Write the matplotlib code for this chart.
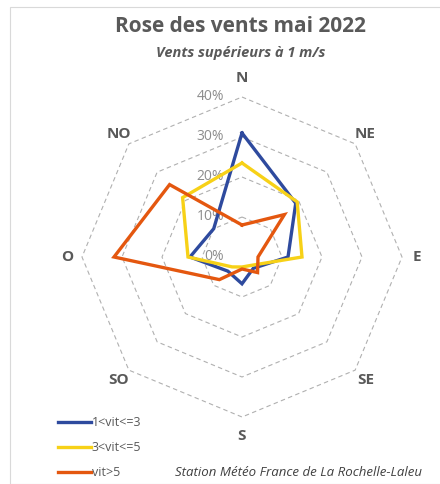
import numpy as np
import matplotlib
matplotlib.use("Agg")
import matplotlib.pyplot as plt
import matplotlib.transforms as mtransforms
from matplotlib.patches import Rectangle

directions = ["N", "NE", "E", "SE", "S", "SO", "O", "NO"]
series_names = ["1<vit<=3", "3<vit<=5", "vit>5"]
v_low = [31, 19, 11.5, 4, 6.7, 5, 13, 10]
v_mid = [23.5, 19.5, 15, 3, 2.5, 3.5, 13.5, 21]
v_high = [8, 15, 4, 5.5, 3, 8, 32, 25.6]
colors = ["#2E4A9E", "#F7D117", "#E4570F"]
ring_values = [10, 20, 30, 40]
ring_labels = ["0%", "10%", "20%", "30%", "40%"]

plt.rcParams['font.family'] = ['Open Sans', 'DejaVu Sans']

W, H = 440, 484
fig = plt.figure(figsize=(W / 100, H / 100), dpi=100)

# frame
fig.patches.append(Rectangle((10 / W, 0), (W - 10) / W + 0.01, (H - 7) / H,
                             transform=fig.transFigure, fill=False,
                             edgecolor="#d9d9d9", lw=0.8))

cx, cy, R = 242, H - 257, 160
ax = fig.add_axes([(cx - R) / W, (cy - R) / H, 2 * R / W, 2 * R / H],
                  projection="polar")
ax.set_theta_zero_location("N")
ax.set_theta_direction(-1)
ax.set_ylim(0, 40)
ax.grid(False)
ax.spines["polar"].set_visible(False)
ax.set_xticks([])
ax.set_yticks([])
ax.patch.set_alpha(0)

n = len(directions)
theta = np.arange(n) * 2 * np.pi / n
theta_c = np.append(theta, theta[0])

for rv in ring_values:
    ax.plot(theta_c, [rv] * (n + 1), color="#b0b0b0", lw=0.8,
            ls=(0, (4, 3)), zorder=1, clip_on=False)

handles = []
for vals, col, name in zip([v_low, v_mid, v_high], colors, series_names):
    vv = np.append(vals, vals[0])
    h, = ax.plot(theta_c, vv, color=col, lw=2.4, label=name, zorder=3,
                 solid_joinstyle="miter")
    handles.append(h)

# radial labels
off = mtransforms.offset_copy(ax.transData, fig=fig, x=-18, y=0, units="dots")
for i, lab in enumerate(ring_labels):
    ax.text(0, i * 10, lab, transform=off, ha="right", va="center",
            fontsize=10, color="#8c8c8c", zorder=2)

# direction labels
for t, d in zip(theta, directions):
    r = 44.8 if d in ("N", "S") else 43.6
    ax.text(t, r, d, ha="center", va="center", fontsize=11,
            fontweight="bold", color="#595959", clip_on=False)

fig.text(240 / W, 1 - 27 / H, "Rose des vents mai 2022", ha="center",
         va="center", fontsize=15, fontweight="bold", color="#595959")
fig.text(241 / W, 1 - 53 / H, "Vents supérieurs à 1 m/s", ha="center",
         va="center", fontsize=10.5, fontweight="bold", style="italic",
         color="#595959")

fig.legend(handles=handles, loc="upper left",
           bbox_to_anchor=(52 / W, 1 - 410 / H), frameon=False,
           fontsize=9, labelcolor="#595959", handlelength=2.6,
           handletextpad=0.1, labelspacing=0.95, borderpad=0)

fig.text(175 / W, 1 - 472 / H, "Station Météo France de La Rochelle-Laleu",
         ha="left", va="center", fontsize=9.5, style="italic",
         color="#404040")

fig.savefig("out.png", dpi=100)
